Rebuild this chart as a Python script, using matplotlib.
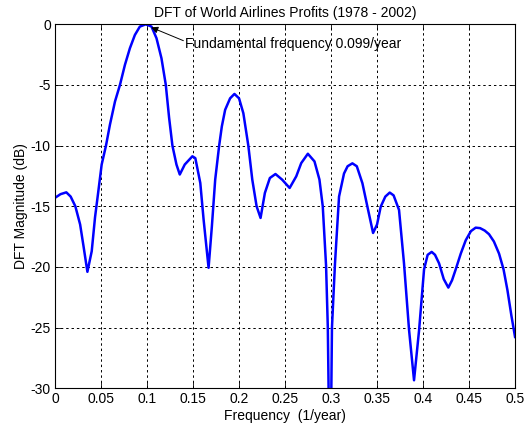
import matplotlib
matplotlib.use("Agg")
import matplotlib.pyplot as plt

plt.rcParams['font.family'] = ['Liberation Sans', 'DejaVu Sans']
plt.rcParams['axes.unicode_minus'] = False

# frequency (1/year) and DFT magnitude (dB)
freq = [0.0, 0.006, 0.0123, 0.017, 0.0221, 0.0273, 0.031, 0.0352, 0.0399,
        0.0435, 0.0471, 0.0507, 0.0554, 0.0597, 0.0652, 0.0706, 0.0760,
        0.0814, 0.0868, 0.0922, 0.0987, 0.1049, 0.1103, 0.1157, 0.1204,
        0.1240, 0.1276, 0.1320, 0.1356, 0.1410, 0.1493, 0.1525, 0.1579,
        0.1615, 0.1669, 0.1705, 0.1741, 0.1784, 0.1813, 0.1849, 0.1903,
        0.1950, 0.2000, 0.2047, 0.2101, 0.2144, 0.2191, 0.2234, 0.2281,
        0.2335, 0.2396, 0.2468, 0.2550, 0.2622, 0.2676, 0.2748, 0.2820,
        0.2874, 0.2910, 0.2946, 0.2965, 0.2990, 0.3010, 0.3043, 0.3087,
        0.3141, 0.3180, 0.3232, 0.3280, 0.3341, 0.3400, 0.3457, 0.3500,
        0.3540, 0.3590, 0.3638, 0.3680, 0.3739, 0.3793, 0.3848, 0.3902,
        0.3957, 0.4011, 0.4050, 0.4094, 0.4130, 0.4174, 0.4225, 0.4275,
        0.4315, 0.4355, 0.4410, 0.4464, 0.4520, 0.4572, 0.4620, 0.4670,
        0.4717, 0.4770, 0.4826, 0.4875, 0.4917, 0.4960, 0.5]
mag_db = [-14.3, -14.0, -13.85, -14.2, -15.0, -16.5, -18.3, -20.4, -18.7,
          -15.9, -13.75, -11.56, -10.0, -8.27, -6.36, -4.99, -3.34,
          -1.97, -0.88, -0.19, 0.0, -0.19, -1.15, -2.8, -4.99,
          -7.7, -10.0, -11.56, -12.38, -11.56, -10.88, -11.03, -13.08,
          -16.1, -20.07, -16.64, -12.8, -10.0, -8.42, -7.05, -6.1,
          -5.74, -6.1, -7.33, -10.0, -12.8, -15.0, -15.96, -13.9,
          -12.67, -12.34, -12.8, -13.49, -12.53, -11.44, -10.67, -11.3,
          -12.8, -15.0, -19.9, -25.0, -40.0, -25.0, -19.7, -14.2,
          -12.3, -11.7, -11.46, -11.7, -13.1, -15.2, -17.2, -16.5,
          -15.03, -14.2, -13.87, -14.1, -15.3, -19.7, -25.2, -29.34,
          -25.2, -20.2, -19.0, -18.76, -19.0, -19.7, -21.0, -21.7,
          -21.1, -20.2, -18.9, -17.8, -17.05, -16.76, -16.8, -17.0,
          -17.3, -17.9, -18.9, -20.2, -21.9, -24.0, -25.77]

x_ticks = [0, 0.05, 0.1, 0.15, 0.2, 0.25, 0.3, 0.35, 0.4, 0.45, 0.5]
x_labels = ['0', '0.05', '0.1', '0.15', '0.2', '0.25', '0.3', '0.35', '0.4', '0.45', '0.5']
y_ticks = [-30, -25, -20, -15, -10, -5, 0]

fig = plt.figure(figsize=(5.3, 4.3), dpi=100)
ax = fig.add_axes([0.1038, 0.097, 0.868, 0.8465])

ax.plot(freq, mag_db, color='#0000ff', linewidth=1.8)

ax.set_xlim(0, 0.5)
ax.set_ylim(-30, 0)
ax.set_xticks(x_ticks)
ax.set_xticklabels(x_labels)
ax.set_yticks(y_ticks)
ax.tick_params(direction='in', top=True, right=True, labelsize=10, length=4, width=0.6, pad=3)
ax.grid(True, color='black', linestyle=(0, (2.5, 3)), linewidth=0.7)
for s in ax.spines.values():
    s.set_linewidth(0.8)

ax.set_title('DFT of World Airlines Profits (1978 - 2002)', fontsize=10, pad=5)
ax.set_xlabel('Frequency  (1/year)', fontsize=10, labelpad=2)
ax.set_ylabel('DFT Magnitude (dB)', fontsize=10, labelpad=2)

ax.text(0.1413, -1.65, 'Fundamental frequency 0.099/year', fontsize=10, va='center', ha='left')
ax.annotate('', xy=(0.1045, -0.25), xytext=(0.1395, -1.35),
            arrowprops=dict(arrowstyle='-|>', color='black', lw=0.7, mutation_scale=10,
                            shrinkA=0, shrinkB=0))

fig.savefig('out.png', dpi=100)
